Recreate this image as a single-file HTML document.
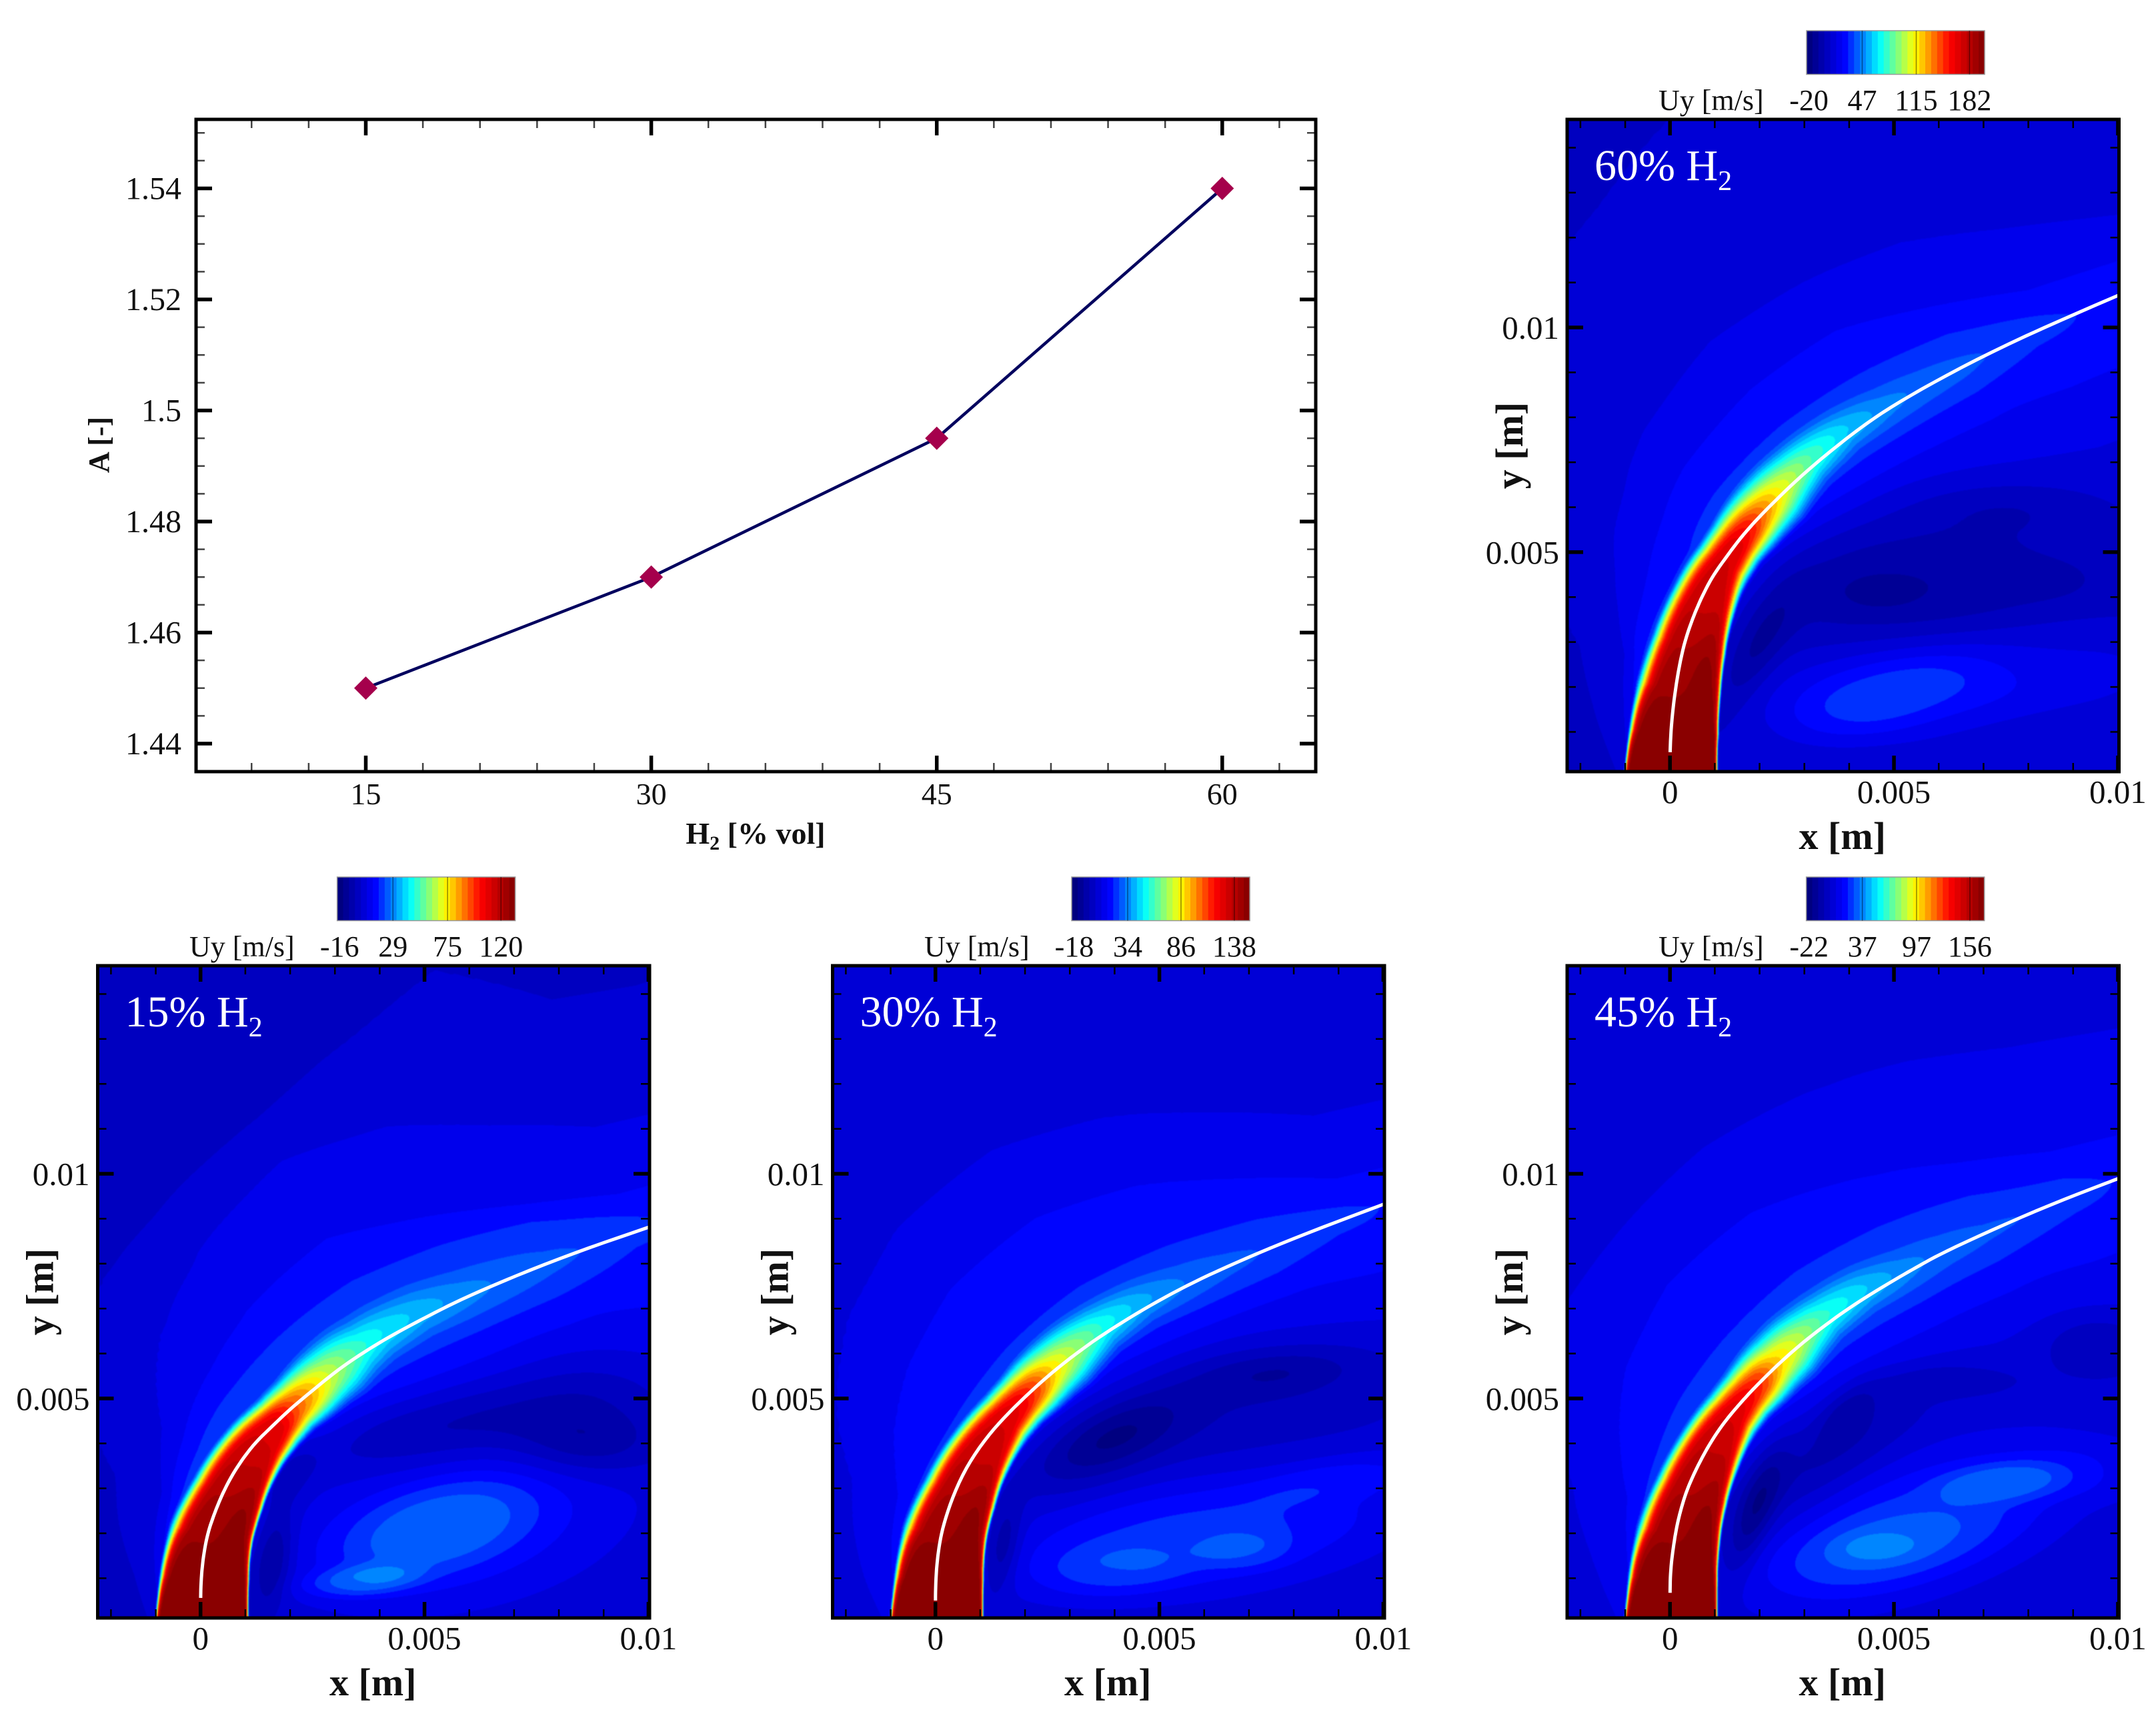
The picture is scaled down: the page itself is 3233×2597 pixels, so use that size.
<!DOCTYPE html>
<html>
<head>
<meta charset="utf-8">
<title>Flame speed factor and Uy contour panels</title>
<style>
html,body{margin:0;padding:0;background:#fff;}
#stage{position:relative;width:3233px;height:2597px;background:#fff;overflow:hidden;font-family:"Liberation Serif","Times New Roman",serif;}
canvas{position:absolute;filter:blur(0.8px);}
svg{position:absolute;left:0;top:0;}
text{font-family:"Liberation Serif","Times New Roman",serif;fill:#111;}
</style>
</head>
<body>
<div id="stage">
<svg id="ov" width="3233" height="2597" viewBox="0 0 3233 2597" xmlns="http://www.w3.org/2000/svg"></svg>
</div>
<script>
/* ---------- line chart data ---------- */
const h2Categories=[15,30,45,60];
const aValues=[1.45,1.47,1.495,1.54];
const aTicks=[1.44,1.46,1.48,1.5,1.52,1.54];

/* ---------- shared contour model data (mm, normalised colour level) ---------- */
const sKnots=[0,1,2,3,4,5,5.5,6,6.5,7,7.5,8,9,10,11,12,13,14,15,17];
const widthLeft=[1.03,.93,.84,.71,.66,.63,.67,.75,.82,.85,.85,.85,.9,.95,1.0,1.1,1.2,1.3,1.4,1.4];
const widthRight=[1.05,1.05,1.0,.93,.8,.66,.63,.69,.75,.85,.85,.85,.9,1.0,1.05,1.1,1.1,1.1,1.1,1.1];
const powerLeft=[40,14,5.5,4.2,3.8,3,2.8,2.5,2.3,2.2,2,2,2,2,2,2,2,2,2,2];
const powerRight=[60,40,26,17,9,4,3.2,2.7,2.4,2.2,2,2,2,2,2,2,2,2,2,2];
const coreShift=[0,0,0,0,0,0,0,.02,.05,.1,.15,.2,.2,.1,.05,0,0,0,0,0];
const hKnots=[0,1,2.5,3.5,4.5,6,8,10,12,14,17];
const haloRight=[.3,.35,.45,.6,.8,1.1,1.6,2.1,2.6,3,3.1];
const openZone=[99,99,99,99,99,99,99,99,99,99,99];

/* ---------- per-case data ---------- */
const line15X=[0,.015,.065,.16,.29,.49,.78,1.18,1.58,2.02,2.47,3.07,3.76,4.41,5.25,6.14,8.01,9.98];
const line15Y=[.48,.99,1.49,1.99,2.38,2.88,3.42,3.97,4.36,4.78,5.15,5.64,6.1,6.48,6.92,7.35,8.12,8.8];
const peak15=[1,.99,.96,.93,.89,.84,.74,.66,.57,.5,.44,.40,.35,.31,.28,.25,.233,.205,.19,.17];
const outer15A=[1.1,1.5,2.4,4,5,5.3,5.7,6.3,7,5.5,5];
const outer15B=[.8,.9,1.2,1.9,3.2,4.0,4.6,4.2,3.3,2.5,2.2];
const outer15C=[.8,.9,1.05,1.35,1.8,2.3,2.6,2.0,1.4,.9,.7];
const outer15D=[0,.5,.9,1.0,1.2,1.4,1.5,1.3,1.0,.3,-1];
const blobs15=[[5.3,2.1,2.3,1.0,15,.085],[3.6,.95,1.3,.35,5,.085],[5.6,2.1,4.2,1.9,10,.07],
[5.5,4.4,3,.8,10,-.07],[8.6,4,1.6,.7,0,-.07],[1.6,1.4,1.1,.4,80,-.1],[2,3.4,.8,.5,60,-.05],[8.7,5,1.8,1.2,0,-.04]];
const cbar15Ticks=[-16,29,75,120];

const line30X=[0,.015,.08,.21,.59,1.19,1.88,2.58,3.48,4.47,5.47,6.46,7.96,9.95];
const line30Y=[.5,1.1,1.7,2.3,3.3,4.2,4.92,5.56,6.25,6.88,7.44,7.91,8.55,9.3];
const peak30=[1,.99,.96,.93,.89,.86,.82,.74,.63,.55,.49,.42,.34,.29,.255,.233,.2,.18,.175,.17];
const outer30A=[1.1,1.6,2.3,3.3,4.1,4.7,4.8,4.2,3.3,2.4,2.0];
const outer30B=[.8,.9,1.2,1.9,2.4,2.9,3,2.5,1.7,.9,.5];
const outer30C=[0,.5,.85,.95,1.05,1.15,1.2,1.0,.7,.2,-1];
const blobs30=[[4.0,1.2,1.7,.6,5,.04],[6.8,1.65,1.1,.45,0,.04],[5.5,1.9,3.6,.95,8,.035],[6,2,5,1.5,8,.07],[9.3,3.3,2.2,.5,10,.04],
[3.9,4.1,1.7,.7,25,-.09],[1.5,1.7,1.0,.35,80,-.09],[7.6,5.6,1.8,.5,5,-.06],[6,5,5,1.5,10,-.045]];
const cbar30Ticks=[-18,34,86,138];

const line45X=[0,.01,.06,.14,.23,.38,.63,.93,1.28,1.72,1.92,2.22,2.57,3.06,3.71,4.35,5.15,5.65,6.25,8.21,9.95];
const line45Y=[.6,1.1,1.59,2.09,2.48,2.97,3.52,4.06,4.56,5.06,5.27,5.57,5.9,6.32,6.81,7.24,7.72,8.0,8.32,9.2,9.87];
const peak45=[1,.99,.96,.93,.9,.86,.82,.76,.65,.58,.51,.44,.37,.31,.27,.245,.235,.225,.195,.18];
const outer45A=[1.1,1.6,2.5,3.5,4.4,4.6,4.8,4.6,4.2,3.6,3];
const outer45B=[.8,.9,1.2,1.9,2.5,3,3.0,2.4,1.7,1.1,.7];
const outer45C=[0,.5,.85,.95,1.1,1.25,1.35,1.2,.9,.3,-1];
const blobs45=[[5.5,2.2,4.4,1.7,18,.07],[5.2,2,3,1.1,18,.035],[4.8,1.7,2.4,.8,12,.04],[4.6,1.7,.95,.35,3,.035],[7.4,3.15,1.5,.45,5,.07],[9.6,3.4,2.2,.7,0,.03],
[1.9,2.5,1.4,.4,70,-.1],[4,4.8,.8,.4,40,-.06],[6.3,5.4,1.5,.35,0,-.045],[3.5,3.7,2.5,.8,35,-.055],[9.5,6.2,1.2,.7,0,-.06]];
const cbar45Ticks=[-22,37,97,156];

const line60X=[0,.02,.06,.16,.31,.51,.68,.93,1.28,1.58,1.97,2.47,3.16,4.38,5.56,7.52,9.91];
const line60Y=[.47,.96,1.46,2.2,2.94,3.53,3.93,4.43,4.92,5.32,5.76,6.26,6.9,7.87,8.6,9.63,10.67];
const peak60=[1,.99,.96,.93,.89,.87,.85,.79,.7,.61,.54,.47,.37,.31,.275,.25,.225,.2,.185,.17];
const outer60A=[1.1,1.6,2.3,3.5,5,7,7.5,8.2,9,9,9];
const outer60B=[.8,.9,1.2,1.9,2.5,3.2,3.6,3.4,3.1,2.4,1.5];
const outer60C=[.8,.9,1.05,1.3,1.6,2.0,2.2,2.1,1.5,.9,.6];
const outer60D=[0,.5,.9,.95,1.05,1.15,1.15,1.0,.8,.2,-1];
const blobs60=[[5.5,4.3,4.5,1.5,0,-.07],[1.9,2.8,1.5,.5,60,-.07],[4.6,4.1,.9,.4,0,-.025],[8.3,4.4,.9,.35,0,-.02],[7.5,6,2,.6,0,-.035],
[4.95,1.9,2.9,1.15,5,.07],[4.6,1.75,2.0,.75,15,.045],[8.5,2.5,3,1.2,0,.04]];
const cbar60Ticks=[-20,47,115,182];

const svgNS='http://www.w3.org/2000/svg';
const ov=document.getElementById('ov');
const stage=document.getElementById('stage');
function mk(tag,attrs,parent){
  const e=document.createElementNS(svgNS,tag);
  for(const k in attrs){e.setAttribute(k,attrs[k]);}
  (parent||ov).appendChild(e);
  return e;
}
function jet(t){
  let r,g,b;
  if(t<.2){r=0;g=0;b=.5+t*2.5;}
  else if(t<.4){r=0;g=(t-.2)*5;b=1;}
  else if(t<.6){r=(t-.4)*5;g=1;b=1-(t-.4)*5;}
  else if(t<.8){r=1;g=1-(t-.6)*5;b=0;}
  else{r=1-(t-.8)*2.5;g=0;b=0;}
  return [Math.round(r*255),Math.round(g*255),Math.round(b*255)];
}
const LEVELS=30;
const palette=[];
for(let i=0;i<LEVELS;i++){palette.push(jet(i/29.5));}
function lerp(kn,vals,s){
  const n=kn.length;
  if(s<=kn[0])return vals[0];
  if(s>=kn[n-1])return vals[n-1];
  let i=1;
  while(kn[i]<s)i++;
  const f=(s-kn[i-1])/(kn[i]-kn[i-1]);
  return vals[i-1]+(vals[i]-vals[i-1])*f;
}
function smoothLine(xs,ys){
  const px=[0].concat(xs),py=[0].concat(ys);
  const n=px.length;
  const dl=Math.hypot(px[n-1]-px[n-2],py[n-1]-py[n-2]);
  const ex=px[n-1]+(px[n-1]-px[n-2])/dl*1.5;
  const ey=py[n-1]+(py[n-1]-py[n-2])/dl*1.5;
  px.push(ex);py.push(ey);
  const ox=[],oy=[];
  for(let i=0;i<px.length-1;i++){
    const a=Math.max(i-1,0),b=i,c=i+1,d=Math.min(i+2,px.length-1);
    for(let k=0;k<6;k++){
      const u=k/6,u2=u*u,u3=u2*u;
      ox.push(.5*(2*px[b]+(px[c]-px[a])*u+(2*px[a]-5*px[b]+4*px[c]-px[d])*u2+(-px[a]+3*px[b]-3*px[c]+px[d])*u3));
      oy.push(.5*(2*py[b]+(py[c]-py[a])*u+(2*py[a]-5*py[b]+4*py[c]-py[d])*u2+(-py[a]+3*py[b]-3*py[c]+py[d])*u3));
    }
  }
  ox.push(ex);oy.push(ey);
  for(let pass=0;pass<10;pass++){
    const sx=ox.slice(),sy=oy.slice();
    for(let i=1;i<ox.length-1;i++){
      ox[i]=.25*sx[i-1]+.5*sx[i]+.25*sx[i+1];
      oy[i]=.25*sy[i-1]+.5*sy[i]+.25*sy[i+1];
    }
  }
  return {x:ox,y:oy};
}

const xMin=-2.296,xMax=10.024,yMin=.116,yMax=14.63;
const PW=827.5,PH=978;

function drawContourField(cfg){
  const L=smoothLine(cfg.lx,cfg.ly);
  const N=L.x.length;
  const cum=new Float64Array(N);
  for(let i=1;i<N;i++){cum[i]=cum[i-1]+Math.hypot(L.x[i]-L.x[i-1],L.y[i]-L.y[i-1]);}
  const blobs=cfg.blobs.map(b=>({x:b[0],y:b[1],sx:b[2],sy:b[3],c:Math.cos(b[4]*Math.PI/180),s:Math.sin(b[4]*Math.PI/180),a:b[5]}));
  function value(x,y){
    let best=1e9,bs=0,bc=0;
    for(let i=0;i<N-1;i++){
      const dx=L.x[i+1]-L.x[i],dy=L.y[i+1]-L.y[i];
      const l2=dx*dx+dy*dy;
      let u=((x-L.x[i])*dx+(y-L.y[i])*dy)/l2;
      if(u<0)u=0;else if(u>1)u=1;
      const qx=x-(L.x[i]+u*dx),qy=y-(L.y[i]+u*dy);
      const d=qx*qx+qy*qy;
      if(d<best){best=d;bs=cum[i]+u*Math.sqrt(l2);bc=dx*qy-dy*qx;}
    }
    const dist=Math.sqrt(best);
    const n=bc>=0?dist:-dist;
    const s=bs;
    const stretch=1+cfg.k*Math.max(0,Math.min(1,(s-5)/3));
    const shift=lerp(sKnots,coreShift,s);
    const nn=n-shift;
    let w,pw;
    if(nn>=0){w=lerp(sKnots,widthLeft,s)*stretch;pw=lerp(sKnots,powerLeft,s);}
    else{w=lerp(sKnots,widthRight,s)*stretch;pw=lerp(sKnots,powerRight,s);}
    let J=lerp(sKnots,cfg.peak,s)*Math.exp(-Math.pow(Math.abs(nn)/w,pw));
    if(s<4.5&&n<0){
      const r=(n+.55)/.25;
      J*=1+.04*Math.exp(-r*r)*Math.min(1,(4.5-s)/2);
    }
    const h4=lerp(hKnots,cfg.h4,s);
    let B;
    if(n>=0){
      const S=h=>1/(1+Math.exp(-(h-n)/.12));
      B=.117+.0335*(S(lerp(hKnots,cfg.h1,s))+S(lerp(hKnots,cfg.h2,s))+S(lerp(hKnots,cfg.h3,s))+S(h4));
    }else{
      const h=lerp(hKnots,haloRight,s)*stretch;
      const a4=1/(1+Math.exp(-h4/.12));
      const hk=Math.max(h4,.3);
      B=.14+.0775*Math.exp(-(n*n)/(h*h))+.0335*a4*Math.exp(-(n*n)/(hk*hk));
    }
    for(let i=0;i<blobs.length;i++){
      const b=blobs[i];
      const ax=x-b.x,ay=y-b.y;
      const u=(ax*b.c+ay*b.s)/b.sx,v=(-ax*b.s+ay*b.c)/b.sy;
      const r2=u*u+v*v;
      B+=b.a*(b.a>0?Math.exp(-r2*Math.sqrt(r2)):Math.exp(-r2));
    }
    if(B<0.005)B=.005;
    const j2=J*J,b2=B*B,j4=j2*j2,b4=b2*b2;
    return Math.pow(j4*j4+b4*b4,.125);
  }
  const cell=2;
  const gw=Math.ceil(PW/cell)+2,gh=Math.ceil(PH/cell)+2;
  const grid=new Float32Array(gw*gh);
  for(let j=0;j<gh;j++){
    const y=yMax-(j*cell)/PH*(yMax-yMin);
    for(let i=0;i<gw;i++){
      const x=xMin+(i*cell)/PW*(xMax-xMin);
      grid[j*gw+i]=value(x,y);
    }
  }
  const W=Math.round(PW),H=PH;
  const cv=document.createElement('canvas');
  cv.width=W;cv.height=H;
  cv.style.left=cfg.L+'px';cv.style.top=cfg.T+'px';cv.style.width=W+'px';cv.style.height=H+'px';
  
  
  stage.insertBefore(cv,ov);
  const ctx=cv.getContext('2d');
  const img=ctx.createImageData(W,H);
  const d=img.data;
  for(let j=0;j<H;j++){
    const gy=j/cell,j0=Math.floor(gy),fy=gy-j0;
    for(let i=0;i<W;i++){
      const gx=i/cell,i0=Math.floor(gx),fx=gx-i0;
      const a=grid[j0*gw+i0],b=grid[j0*gw+i0+1],c=grid[(j0+1)*gw+i0],e=grid[(j0+1)*gw+i0+1];
      const t=(a*(1-fx)+b*fx)*(1-fy)+(c*(1-fx)+e*fx)*fy;
      let k=Math.floor(t*LEVELS);
      if(k>=LEVELS)k=LEVELS-1;
      if(k<0)k=0;
      const col=palette[k],o=(j*W+i)*4;
      d[o]=col[0];d[o+1]=col[1];d[o+2]=col[2];d[o+3]=255;
    }
  }
  ctx.putImageData(img,0,0);
}

function drawPanel(cfg){
  const g=mk('g',{});
  
  
  const X=v=>cfg.L+(v-xMin)/(xMax-xMin)*PW;
  const Y=v=>cfg.T+PH-(v-yMin)/(yMax-yMin)*PH;
  const clipId='clip'+cfg.id;
  const defs=mk('defs',{},g);
  const cp=mk('clipPath',{id:clipId},defs);
  mk('rect',{x:cfg.L,y:cfg.T,width:PW,height:PH},cp);
  const L=smoothLine(cfg.lx,cfg.ly);
  let dstr='';
  for(let i=0;i<L.x.length;i++){
    if(L.y[i]<cfg.ly[0])continue;
    dstr+=(dstr?'L':'M')+X(L.x[i]).toFixed(1)+' '+Y(L.y[i]).toFixed(1);
  }
  const wl=mk('path',{d:dstr,fill:'none',stroke:'#fff','stroke-width':5,'clip-path':'url(#'+clipId+')'},g);
  
  
  const B=cfg.T+PH,R=cfg.L+PW;
  [-2,-1,0,1,2,3,4,5,6,7,8,9,10].forEach(v=>{
    const major=(v%5===0);
    const len=major?24:13,wd=major?5.5:2.5;
    const a=mk('line',{x1:X(v),x2:X(v),y1:B,y2:B-len,stroke:'#000','stroke-width':wd},g);
    
    
    const b=mk('line',{x1:X(v),x2:X(v),y1:cfg.T,y2:cfg.T+len,stroke:'#000','stroke-width':wd},g);
    
    
  });
  [1,2,3,4,5,6,7,8,9,10,11,12,13,14].forEach(v=>{
    const major=(v%5===0);
    const len=major?24:13,wd=major?5.5:2.5;
    const a=mk('line',{x1:cfg.L,x2:cfg.L+len,y1:Y(v),y2:Y(v),stroke:'#000','stroke-width':wd},g);
    
    
    const b=mk('line',{x1:R,x2:R-len,y1:Y(v),y2:Y(v),stroke:'#000','stroke-width':wd},g);
    
    
  });
  const fr=mk('rect',{x:cfg.L,y:cfg.T,width:PW,height:PH,fill:'none',stroke:'#000','stroke-width':5},g);
  
  
  [[0,'0'],[5,'0.005'],[10,'0.01']].forEach(p=>{
    const t=mk('text',{x:X(p[0]),y:B+47,'text-anchor':'middle','font-size':49},g);
    t.textContent=p[1];
    
    
  });
  [[5,'0.005'],[10,'0.01']].forEach(p=>{
    const t=mk('text',{x:cfg.L-12,y:Y(p[0])+17,'text-anchor':'end','font-size':49},g);
    t.textContent=p[1];
    
    
  });
  const xt=mk('text',{x:cfg.L+PW/2-1,y:B+116,'text-anchor':'middle','font-size':58,'font-weight':'bold'},g);
  xt.textContent='x [m]';
  
  
  const yc=cfg.T+PH/2,yx=cfg.L-67;
  const yt=mk('text',{x:yx,y:yc,'text-anchor':'middle','font-size':58,'font-weight':'bold',transform:'rotate(-90 '+yx+' '+yc+')'},g);
  yt.textContent='y [m]';
  
  
  const cap=mk('text',{x:cfg.L+41,y:cfg.T+91,'font-size':66,style:'fill:#fff'},g);
  
  
  const c1=mk('tspan',{},cap);
  c1.textContent=cfg.id+'% H';
  const c2=mk('tspan',{'font-size':42,dy:15},cap);
  c2.textContent='2';

  /* colour bar */
  const cb=mk('g',{},g);
  
  
  const cT=cfg.T-133,cH=65.5,cL=cfg.cbL,cW=267;
  const CX=v=>cL+(v-cfg.cmin)/(cfg.cmax-cfg.cmin)*cW;
  for(let i=0;i<LEVELS;i++){
    const c=palette[i];
    const r=mk('rect',{x:cL+i*cW/LEVELS,y:cT,width:cW/LEVELS+.6,height:cH,fill:'rgb('+c.join(',')+')'},cb);
    
    
  }
  const cf=mk('rect',{x:cL,y:cT,width:cW,height:cH,fill:'none',stroke:'#999','stroke-width':1.5},cb);
  
  
  cfg.ticks.forEach((v,i)=>{
    if(i>0){
      const m=mk('line',{x1:CX(v),x2:CX(v),y1:cT,y2:cT+cH,stroke:'rgba(0,0,0,.45)','stroke-width':1.5},cb);
      
      
    }
    const t=mk('text',{x:CX(v),y:cT+119,'text-anchor':'middle','font-size':44},cb);
    t.textContent=String(v);
    
    
  });
  const ct=mk('text',{x:cfg.cbTitle,y:cT+119,'font-size':44},cb);
  ct.textContent='Uy [m/s]';
  
  
}

function drawLineChart(){
  const L=294,R=1973,T=179,B=1157;
  const g=mk('g',{});
  
  
  const X=v=>548.5+(v-15)*28.54;
  const Y=v=>282.5+(1.54-v)*8325;
  for(let v=6;v<=66;v+=3){
    if(X(v)<L+2||X(v)>R-2)continue;
    const major=(v%15===0);
    const len=major?24:13,wd=major?5.5:2.5,col=major?'#000':'#444';
    const a=mk('line',{x1:X(v),x2:X(v),y1:B,y2:B-len,stroke:col,'stroke-width':wd},g);
    
    
    const b=mk('line',{x1:X(v),x2:X(v),y1:T,y2:T+len,stroke:col,'stroke-width':wd},g);
    
    
  }
  for(let i=0;i<=24;i++){
    const v=1.435+i*.005;
    if(Y(v)<T+2||Y(v)>B-2)continue;
    const major=((i-1)%4===0);
    const len=major?24:13,wd=major?5.5:2.5,col=major?'#000':'#444';
    const a=mk('line',{x1:L,x2:L+len,y1:Y(v),y2:Y(v),stroke:col,'stroke-width':wd},g);
    
    
    const b=mk('line',{x1:R,x2:R-len,y1:Y(v),y2:Y(v),stroke:col,'stroke-width':wd},g);
    
    
  }
  const fr=mk('rect',{x:L,y:T,width:R-L,height:B-T,fill:'none',stroke:'#000','stroke-width':5},g);
  
  
  h2Categories.forEach(v=>{
    const t=mk('text',{x:X(v),y:B+49,'text-anchor':'middle','font-size':46},g);
    t.textContent=String(v);
    
    
  });
  aTicks.forEach(v=>{
    const t=mk('text',{x:L-22,y:Y(v)+16,'text-anchor':'end','font-size':48},g);
    t.textContent=String(v);
    
    
  });
  const pts=h2Categories.map((c,i)=>X(c).toFixed(1)+','+Y(aValues[i]).toFixed(1)).join(' ');
  const pl=mk('polyline',{points:pts,fill:'none',stroke:'#00005e','stroke-width':4.5},g);
  
  
  h2Categories.forEach((c,i)=>{
    const x=X(c),y=Y(aValues[i]),r=17.5;
    const p=mk('polygon',{points:(x-r)+','+y+' '+x+','+(y-r)+' '+(x+r)+','+y+' '+x+','+(y+r),fill:'#a5004c'},g);
    
    
  });
  const xt=mk('text',{x:1133,y:1265,'text-anchor':'middle','font-size':46,'font-weight':'bold'},g);
  
  
  const x1=mk('tspan',{},xt);
  x1.textContent='H';
  const x2=mk('tspan',{'font-size':30,dy:9},xt);
  x2.textContent='2';
  const x3=mk('tspan',{dy:-9},xt);
  x3.textContent=' [% vol]';
  const yt=mk('text',{x:163,y:667,'text-anchor':'middle','font-size':44,'font-weight':'bold',transform:'rotate(-90 163 667)'},g);
  yt.textContent='A [-]';
  
  
}

const panels=[
 {id:'60',L:2350,T:179,lx:line60X,ly:line60Y,peak:peak60,h1:outer60A,h2:outer60B,h3:outer60C,h4:outer60D,blobs:blobs60,k:-.05,ticks:cbar60Ticks,cmin:-23,cmax:201,cbL:2709,cbTitle:2487},
 {id:'15',L:146.5,T:1448,lx:line15X,ly:line15Y,peak:peak15,h1:outer15A,h2:outer15B,h3:outer15C,h4:outer15D,blobs:blobs15,k:.15,ticks:cbar15Ticks,cmin:-18,cmax:132,cbL:505.6,cbTitle:284},
 {id:'30',L:1248.5,T:1448,lx:line30X,ly:line30Y,peak:peak30,h1:openZone,h2:outer30A,h3:outer30B,h4:outer30C,blobs:blobs30,k:0,ticks:cbar30Ticks,cmin:-20.6,cmax:153,cbL:1607,cbTitle:1386},
 {id:'45',L:2350,T:1448,lx:line45X,ly:line45Y,peak:peak45,h1:openZone,h2:outer45A,h3:outer45B,h4:outer45C,blobs:blobs45,k:0,ticks:cbar45Ticks,cmin:-25,cmax:172,cbL:2708.6,cbTitle:2487}
];
drawLineChart();
panels.forEach(p=>{drawContourField(p);drawPanel(p);});
</script>
</body>
</html>
